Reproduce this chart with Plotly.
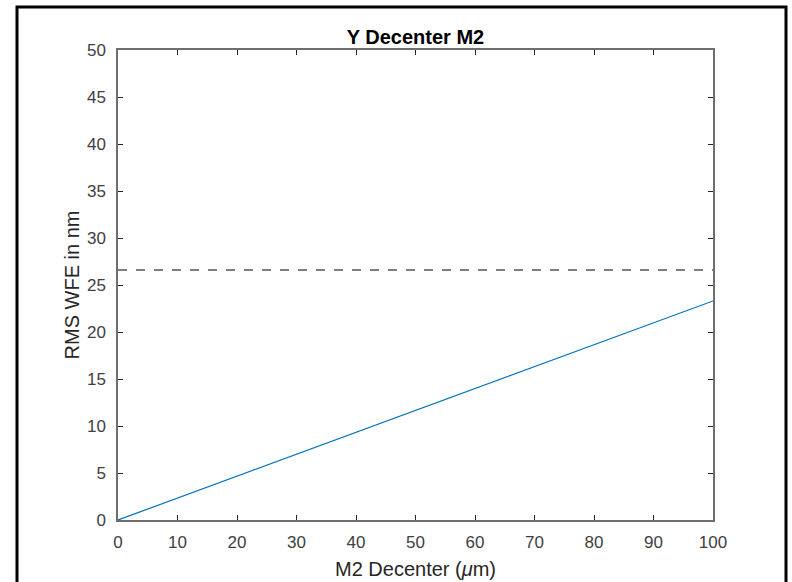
import plotly.graph_objects as go

decenter_um = [0, 10, 20, 30, 40, 50, 60, 70, 80, 90, 100]
rms_wfe_nm = [0, 2.33, 4.66, 6.99, 9.32, 11.65, 13.98, 16.31, 18.64, 20.97, 23.3]
threshold_nm = 26.6
x_ticks = [0, 10, 20, 30, 40, 50, 60, 70, 80, 90, 100]
y_ticks = [0, 5, 10, 15, 20, 25, 30, 35, 40, 45, 50]

W, H = 792, 582
L, R, T, B = 118, 79, 50, 62
pw, ph = W - L - R, H - T - B

def px_x(p):
    return (p - L) / pw

def px_y(p):
    return (H - B - p) / ph

FONT = "Liberation Sans, Arial"

fig = go.Figure()
fig.add_trace(go.Scatter(x=decenter_um, y=rms_wfe_nm, mode="lines",
                         line=dict(color="#0072BD", width=1.2), showlegend=False))
fig.add_trace(go.Scatter(x=[x_ticks[0], x_ticks[-1]], y=[threshold_nm, threshold_nm], mode="lines",
                         line=dict(color="#555555", width=1.5, dash="dash"), showlegend=False))

axis_common = dict(showgrid=False, zeroline=False, showline=True, linecolor="#6e6e6e", linewidth=1.5,
                   mirror="ticks", ticks="inside", ticklen=5, tickwidth=1, tickcolor="#262626",
                   automargin=False,
                   tickfont=dict(family=FONT, size=17, color="#404040"))

fig.update_xaxes(range=[0, 100], tickvals=x_ticks, ticklabelstandoff=6, **axis_common,
                 title=dict(text="M2 Decenter (<i>μ</i>m)", standoff=11,
                            font=dict(family=FONT, size=20, color="#262626")))
fig.update_yaxes(range=[0, 50], tickvals=y_ticks, ticklabelstandoff=7, **axis_common,
                 title=dict(text="RMS WFE in nm", standoff=2,
                            font=dict(family=FONT, size=20, color="#262626")))

fig.add_shape(type="rect", xref="paper", yref="paper",
              x0=px_x(17), x1=px_x(786), y0=px_y(614), y1=px_y(7),
              line=dict(color="black", width=3), layer="above")

fig.update_layout(
    width=W, height=H,
    margin=dict(l=L, r=R, t=T, b=B, autoexpand=False),
    paper_bgcolor="white", plot_bgcolor="white",
    title=dict(text="<b>Y Decenter M2</b>", x=(L + pw / 2) / W, xanchor="center",
               y=1 - 37 / H, yanchor="middle",
               font=dict(family=FONT, size=20, color="#000000")),
)

fig.write_html("out.html")
